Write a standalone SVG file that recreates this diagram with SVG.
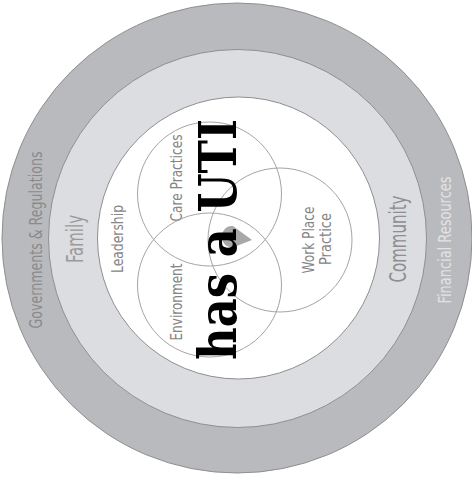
<svg xmlns="http://www.w3.org/2000/svg" width="472" height="480" viewBox="0 0 472 480">
<style>
.ring{stroke:#8f8f8f;stroke-width:1}
.venn{fill:none;stroke:#9a9a9a;stroke-width:0.9}
.lbl{font-family:"Liberation Sans Narrow","DejaVu Sans Condensed","Roboto","Liberation Sans",sans-serif;font-stretch:condensed;font-weight:300;text-anchor:middle}
.big{font-family:"DejaVu Serif","Liberation Serif",serif;font-weight:bold;fill:#000}
</style>
<rect width="472" height="480" fill="#fff"/>
<g id="outer-ring">
<circle class="ring" cx="237" cy="238" r="235" fill="#b9babd"/>
<text class="lbl" transform="translate(36,240) rotate(-90)" y="6" font-size="17.5" textLength="177" lengthAdjust="spacingAndGlyphs" fill="#8a8a8c">Governments &amp; Regulations</text>
<text class="lbl" transform="translate(445,240) rotate(-90)" y="6" font-size="17.5" textLength="127" lengthAdjust="spacingAndGlyphs" fill="#e2e2e3">Financial Resources</text>
</g>
<g id="middle-ring">
<circle class="ring" cx="237.5" cy="238.5" r="189" fill="#dcdde0"/>
<text class="lbl" transform="translate(75,239) rotate(-90)" y="8" font-size="23" textLength="48" lengthAdjust="spacingAndGlyphs" fill="#9a9a9c">Family</text>
<text class="lbl" transform="translate(398,239) rotate(-90)" y="8" font-size="23" textLength="87" lengthAdjust="spacingAndGlyphs" fill="#8e8e90">Community</text>
</g>
<g id="inner-circle">
<circle class="ring" cx="238.5" cy="238" r="141" fill="#ffffff"/>
<text class="lbl" transform="translate(117,239) rotate(-90)" y="5.8" font-size="16.5" textLength="68" lengthAdjust="spacingAndGlyphs" fill="#858585">Leadership</text>
</g>
<g id="care-practices">
<circle class="venn" cx="209.5" cy="194" r="72"/>
<text class="lbl" transform="translate(176,178) rotate(-90)" y="5.8" font-size="16.5" textLength="87" lengthAdjust="spacingAndGlyphs" fill="#858585">Care Practices</text>
</g>
<g id="environment">
<circle class="venn" cx="209.5" cy="285" r="72"/>
<text class="lbl" transform="translate(176,302) rotate(-90)" y="5.8" font-size="16.5" textLength="77" lengthAdjust="spacingAndGlyphs" fill="#858585">Environment</text>
</g>
<g id="work-place-practice">
<circle class="venn" cx="280" cy="240" r="72"/>
<text class="lbl" transform="translate(308,240) rotate(-90)" y="5.8" font-size="16.5" textLength="67" lengthAdjust="spacingAndGlyphs" fill="#858585">Work Place</text>
<text class="lbl" transform="translate(325,239) rotate(-90)" y="5.8" font-size="16.5" textLength="52" lengthAdjust="spacingAndGlyphs" fill="#858585">Practice</text>
</g>
<g id="center-mark">
<path d="M252,240 L233,226 C226,225 221,232 222,238 C223,245 228,248 234,247 Z" fill="#a8a8a8"/>
</g>
<g id="headline">
<text class="big" transform="translate(236,360) rotate(-90)" font-size="53" textLength="241" lengthAdjust="spacingAndGlyphs">has a UTI</text>
</g>
</svg>
